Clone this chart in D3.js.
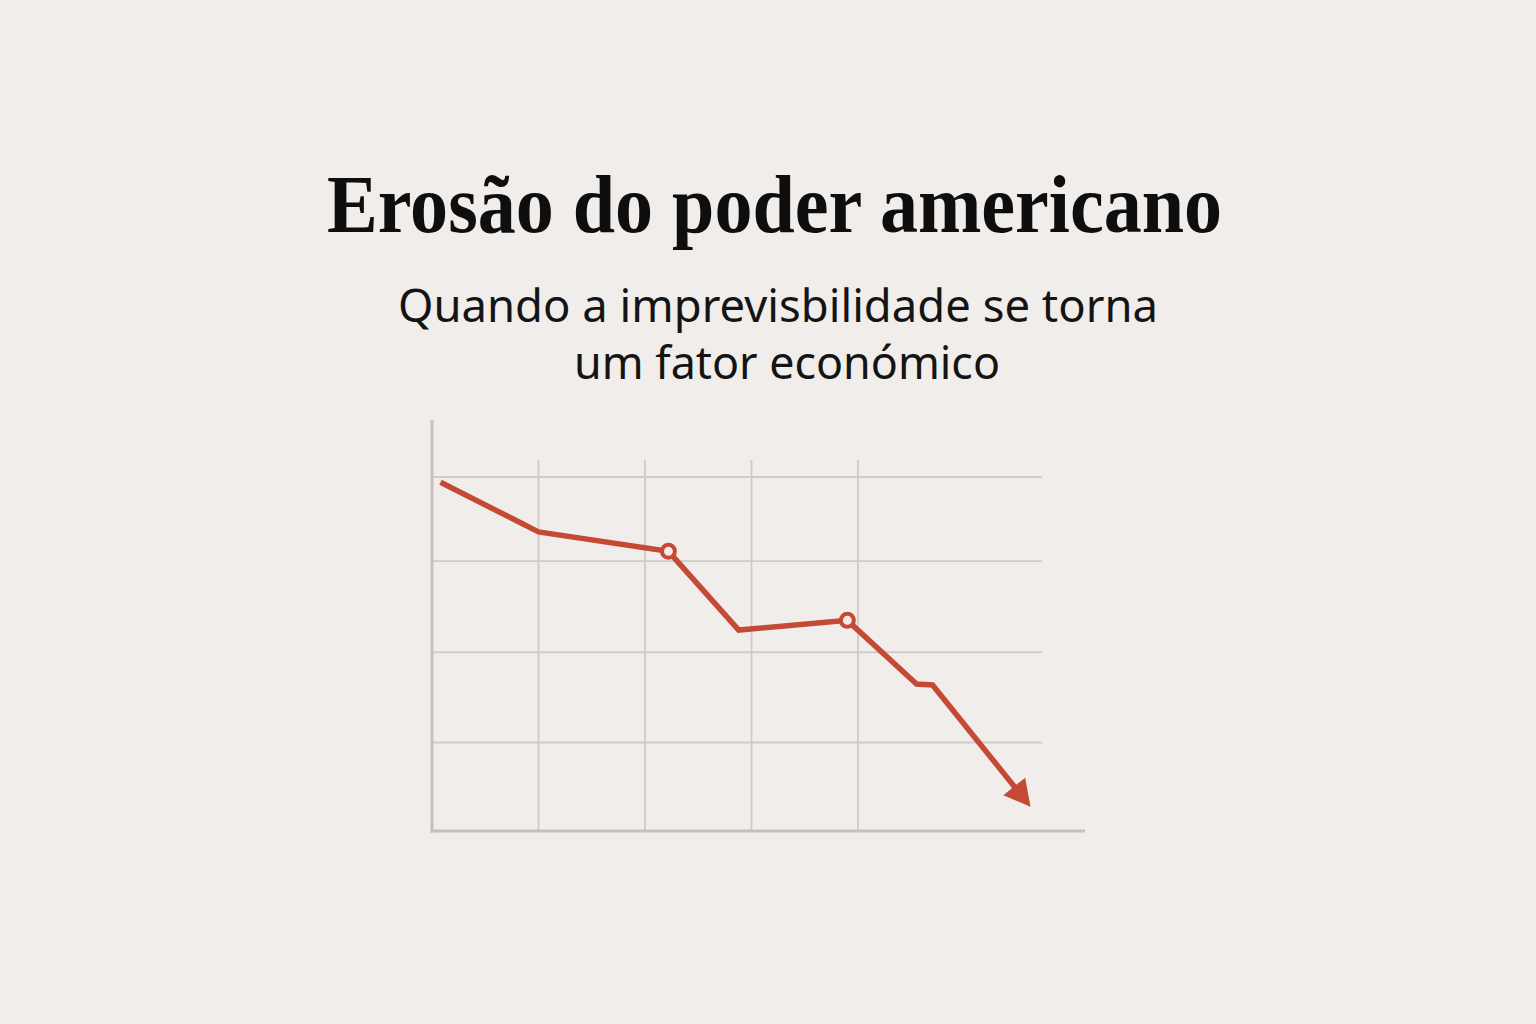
<!DOCTYPE html>
<html><head><meta charset="utf-8">
<script src="https://cdn.jsdelivr.net/npm/d3@7"></script>
<style>
html,body{margin:0;padding:0;background:#f1edea;}
svg{display:block;}
</style></head>
<body>
<svg id="chart" width="1536" height="1024"></svg>
<script>
// ---- data ----
const titleText = "Erosão do poder americano";
const subtitleLines = ["Quando a imprevisbilidade se torna", "um fator económico"];
const xValues = [0.08, 1.0, 2.22, 2.88, 3.9, 4.55, 4.7, 5.62];
const yValues = [3.94, 3.38, 3.16, 2.27, 2.38, 1.66, 1.65, 0.275];
const markedPoints = [2, 4];          // indices drawn with hollow circles
const xGridTicks = [1, 2, 3, 4];
const yGridTicks = [1, 2.02, 3.05, 4];

// ---- layout ----
const svg = d3.select("#chart");
const W = 1536, H = 1024;
svg.append("rect").attr("width", W).attr("height", H).attr("fill", "#f1edea");

const x = d3.scaleLinear().domain([0, 1]).range([432, 538.5]);
const y = d3.scaleLinear().domain([0, 1]).range([831, 742.5]);

// title
svg.append("text").attr("x", 774.5).attr("y", 232)
  .attr("text-anchor", "middle")
  .attr("font-family", "'Liberation Serif', 'Times New Roman', serif")
  .attr("font-weight", "bold").attr("font-size", 82).attr("fill", "#0e0e0e")
  .attr("textLength", 895).attr("lengthAdjust", "spacingAndGlyphs")
  .text(titleText);

const subWidths = [760, 426];
const subX = [778, 787];
subtitleLines.forEach((t, i) => {
  svg.append("text").attr("x", subX[i]).attr("y", 322 + i * 57)
    .attr("text-anchor", "middle")
    .attr("font-family", "'Noto Sans', 'Open Sans', sans-serif")
    .attr("font-size", 45).attr("fill", "#141414")
    .attr("textLength", subWidths[i]).attr("lengthAdjust", "spacingAndGlyphs")
    .text(t);
});

const g = svg.append("g");
// vertical gridlines
g.selectAll(".vg").data(xGridTicks).join("line")
  .attr("x1", d => x(d)).attr("x2", d => x(d))
  .attr("y1", 460).attr("y2", y(0))
  .attr("stroke", "#cfcbc8").attr("stroke-width", 1.8);
// horizontal gridlines
g.selectAll(".hg").data(yGridTicks).join("line")
  .attr("x1", x(0)).attr("x2", 1042)
  .attr("y1", d => y(d)).attr("y2", d => y(d))
  .attr("stroke", "#cfcbc8").attr("stroke-width", 1.8);
// axes
g.append("line").attr("x1", x(0)).attr("x2", x(0)).attr("y1", 420).attr("y2", y(0) + 1.5)
  .attr("stroke", "#c3c0bd").attr("stroke-width", 3);
g.append("line").attr("x1", x(0) - 1.5).attr("x2", 1085).attr("y1", y(0)).attr("y2", y(0))
  .attr("stroke", "#c3c0bd").attr("stroke-width", 3);

// line
const pts = xValues.map((v, i) => [x(v), y(yValues[i])]);
const n = pts.length;
const tip = pts[n - 1], prev = pts[n - 2];
const ang = Math.atan2(tip[1] - prev[1], tip[0] - prev[0]);
const headLen = 26, headHalf = 14;
const baseC = [tip[0] - headLen * Math.cos(ang), tip[1] - headLen * Math.sin(ang)];
const linePts = pts.slice(0, n - 1).concat([[tip[0] - (headLen - 4) * Math.cos(ang), tip[1] - (headLen - 4) * Math.sin(ang)]]);

const red = "#c44a35";
g.append("path").attr("d", d3.line()(linePts))
  .attr("fill", "none").attr("stroke", red).attr("stroke-width", 5.5)
  .attr("stroke-linejoin", "miter").attr("stroke-linecap", "butt");

const px = -Math.sin(ang), py = Math.cos(ang);
g.append("path").attr("d", d3.line()([
    tip,
    [baseC[0] + px * headHalf, baseC[1] + py * headHalf],
    [baseC[0] - px * headHalf, baseC[1] - py * headHalf]
  ]) + "Z")
  .attr("fill", red);

g.selectAll(".mk").data(markedPoints).join("circle")
  .attr("cx", i => pts[i][0]).attr("cy", i => pts[i][1])
  .attr("r", 6.5).attr("fill", "#f1edea").attr("stroke", red).attr("stroke-width", 4);
</script>
</body></html>
